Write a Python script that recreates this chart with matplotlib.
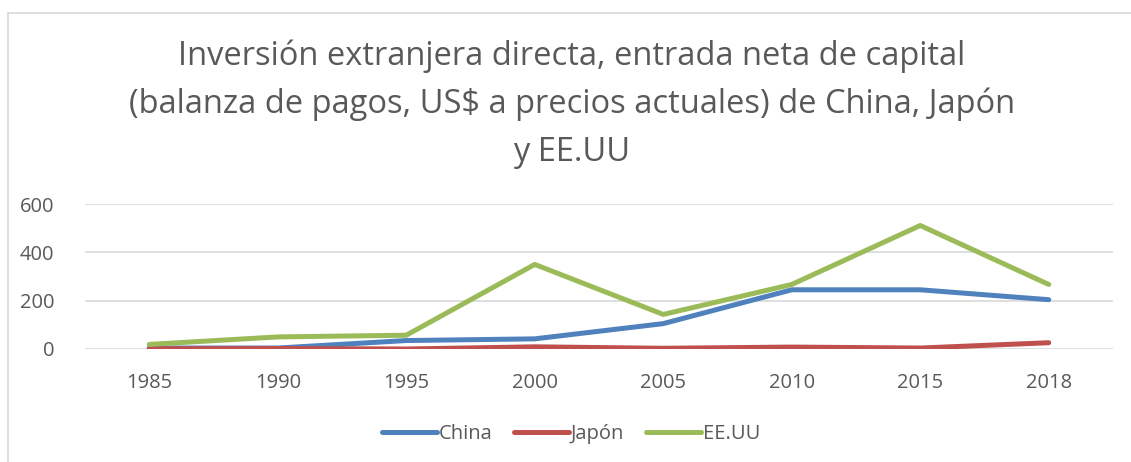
import matplotlib
matplotlib.use("Agg")
import matplotlib.pyplot as plt
from matplotlib.patches import Rectangle

# values (categorical years)
years = ["1985", "1990", "1995", "2000", "2005", "2010", "2015", "2018"]
china = [4, 4, 35, 42, 105, 245, 245, 204]
japon = [1, 2, 0, 9, 3, 8, 4, 26]
eeuu = [19, 50, 57, 350, 143, 267, 511, 267]
yticks = [0, 200, 400, 600]

title = ("Inversión extranjera directa, entrada neta de capital\n"
         "(balanza de pagos, US$ a precios actuales) de China, Japón\n"
         "y EE.UU")

TXT = "#595959"
plt.rcParams["font.family"] = ["Open Sans", "DejaVu Sans"]

fig = plt.figure(figsize=(11.31, 4.62), dpi=100)
fig.patch.set_facecolor("white")

# light outer border of the chart area
fig.patches.append(Rectangle((8 / 1131, -0.1), 1.2, 1 - 13 / 462 + 0.1,
                             transform=fig.transFigure, fill=False,
                             edgecolor="#d9d9d9", linewidth=1.2))

ax = fig.add_axes([85 / 1131, 1 - 349 / 462, 1028 / 1131, 145 / 462])
x = range(len(years))
lw = 3.6
ax.plot(x, china, color="#4f81bd", lw=lw, solid_capstyle="round", label="China", zorder=3)
ax.plot(x, japon, color="#c0504d", lw=lw, solid_capstyle="round", label="Japón", zorder=3)
ax.plot(x, eeuu, color="#9bbb59", lw=lw, solid_capstyle="round", label="EE.UU", zorder=3)

ax.set_xlim(-0.5, len(years) - 0.5)
ax.set_ylim(0, 600)
ax.set_xticks(list(x))
ax.set_xticklabels(years)
ax.set_yticks(yticks)
ax.grid(axis="y", color="#d9d9d9", linewidth=1.2)
ax.set_axisbelow(True)
for s in ax.spines.values():
    s.set_visible(False)
ax.tick_params(length=0, labelsize=14.5, colors=TXT)
ax.tick_params(axis="y", pad=22)
ax.tick_params(axis="x", pad=17)

fig.text(572 / 1131, 1 - 104 / 462, title, ha="center", va="center",
         fontsize=23.5, color=TXT, linespacing=1.59)

fig.legend(loc="center", bbox_to_anchor=(0.505, 1 - 434 / 462), ncol=3,
           frameon=False, fontsize=14.5, handlelength=2.7, handletextpad=0.1,
           columnspacing=1.1, labelcolor=TXT)

fig.savefig("out.png", dpi=100, facecolor="white")
